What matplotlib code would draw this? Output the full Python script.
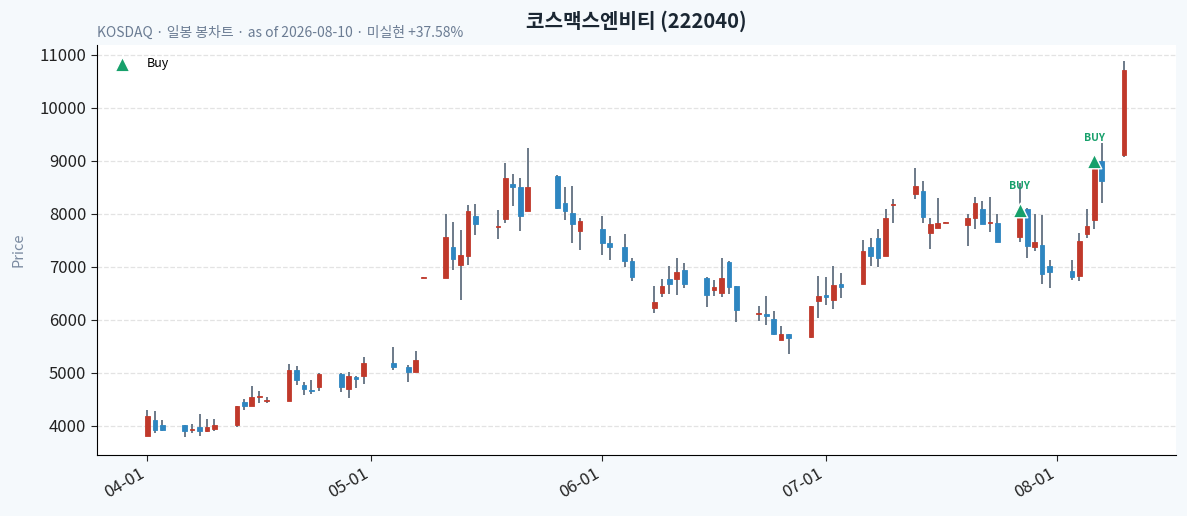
import numpy as np
import pandas as pd
import matplotlib
matplotlib.use("Agg")
import matplotlib.pyplot as plt
import matplotlib.dates as mdates

plt.rcParams['font.family'] = ['Noto Sans CJK KR', 'DejaVu Sans']

dates = ["2026-04-01", "2026-04-02", "2026-04-03", "2026-04-06", "2026-04-07", "2026-04-08",
         "2026-04-09", "2026-04-10", "2026-04-13", "2026-04-14", "2026-04-15", "2026-04-16",
         "2026-04-17", "2026-04-20", "2026-04-21", "2026-04-22", "2026-04-23", "2026-04-24",
         "2026-04-27", "2026-04-28", "2026-04-29", "2026-04-30", "2026-05-04", "2026-05-06",
         "2026-05-07", "2026-05-08", "2026-05-11", "2026-05-12", "2026-05-13", "2026-05-14",
         "2026-05-15", "2026-05-18", "2026-05-19", "2026-05-20", "2026-05-21", "2026-05-22",
         "2026-05-26", "2026-05-27", "2026-05-28", "2026-05-29", "2026-06-01", "2026-06-02",
         "2026-06-04", "2026-06-05", "2026-06-08", "2026-06-09", "2026-06-10", "2026-06-11",
         "2026-06-12", "2026-06-15", "2026-06-16", "2026-06-17", "2026-06-18", "2026-06-19",
         "2026-06-22", "2026-06-23", "2026-06-24", "2026-06-25", "2026-06-26", "2026-06-29",
         "2026-06-30", "2026-07-01", "2026-07-02", "2026-07-03", "2026-07-06", "2026-07-07",
         "2026-07-08", "2026-07-09", "2026-07-10", "2026-07-13", "2026-07-14", "2026-07-15",
         "2026-07-16", "2026-07-17", "2026-07-20", "2026-07-21", "2026-07-22", "2026-07-23",
         "2026-07-24", "2026-07-27", "2026-07-28", "2026-07-29", "2026-07-30", "2026-07-31",
         "2026-08-03", "2026-08-04", "2026-08-05", "2026-08-06", "2026-08-07", "2026-08-10"]

opens = [3817, 4114, 4019, 4006, 3920, 3981, 3911, 3949, 4006, 4454, 4366, 4536,
         4460, 4460, 5059, 4770, 4670, 4732, 4978, 4700, 4921, 4940, 5186, 5110,
         5009, 6790, 6794, 7381, 7040, 7203, 7968, 7755, 7911, 8560, 8516, 8062,
         8717, 8213, 8024, 7676, 7708, 7457, 7381, 7116, 6227, 6511, 6776, 6776,
         6946, 6794, 6567, 6503, 7097, 6630, 6108, 6119, 6019, 5614, 5741, 5671,
         6352, 6460, 6371, 6668, 6673, 7368, 7551, 7203, 8160, 8384, 8441, 7646,
         7733, 7836, 7790, 7923, 8100, 7822, 7835, 7570, 8087, 7381, 7406, 7014,
         6914, 6825, 7627, 7884, 9000, 9108]
highs = [4303, 4278, 4114, 4010, 4032, 4221, 4127, 4127, 4378, 4505, 4744, 4656,
         4543, 5167, 5122, 4827, 4870, 5000, 5000, 5016, 4940, 5300, 5481, 5155,
         5413, 6800, 8005, 7854, 7689, 8176, 8195, 8081, 8970, 8762, 8686, 9235,
         8730, 8509, 8528, 7923, 7960, 7582, 7619, 7173, 6636, 6776, 7014, 7173,
         7078, 6800, 6749, 7173, 7110, 6640, 6265, 6454, 6163, 5879, 5741, 6265,
         6825, 6813, 7022, 6889, 7500, 7538, 7708, 8100, 8282, 8868, 8622, 7930,
         8308, 7846, 8005, 8327, 8244, 8327, 7992, 8592, 8119, 8005, 7979, 7128,
         7128, 7646, 8087, 8900, 9330, 10881]
lows = [3810, 3862, 3911, 3786, 3873, 3805, 3892, 3911, 3975, 4303, 4366, 4435,
        4435, 4460, 4770, 4587, 4600, 4656, 4637, 4523, 4713, 4789, 5059, 4827,
        5009, 6785, 6794, 6933, 6384, 7040, 7608, 7519, 7835, 8149, 7670, 8062,
        8100, 7879, 7457, 7311, 7216, 7122, 7003, 6738, 6132, 6422, 6492, 6460,
        6605, 6246, 6454, 6435, 6492, 5962, 5981, 5911, 5720, 5614, 5362, 5660,
        6038, 6284, 6208, 6416, 6673, 7022, 7003, 7203, 7822, 8276, 7835, 7330,
        7730, 7832, 7392, 7708, 7816, 7652, 7468, 7468, 7173, 7292, 6681, 6592,
        6743, 6730, 7551, 7708, 8213, 9065]
closes = [4189, 3930, 3930, 3911, 3930, 3911, 3981, 4019, 4378, 4366, 4543, 4568,
          4467, 5059, 4858, 4688, 4660, 4978, 4732, 4940, 4883, 5186, 5104, 5016,
          5243, 6798, 7570, 7154, 7216, 8049, 7816, 7765, 8686, 8516, 7968, 8516,
          8119, 8062, 7816, 7873, 7449, 7381, 7116, 6813, 6340, 6630, 6681, 6908,
          6681, 6473, 6611, 6794, 6617, 6181, 6118, 6068, 5727, 5741, 5659, 6265,
          6454, 6428, 6662, 6617, 7292, 7203, 7173, 7930, 8180, 8535, 7941, 7816,
          7835, 7844, 7930, 8213, 7816, 7832, 7468, 7916, 7392, 7468, 6870, 6900,
          6806, 7495, 7771, 8844, 8622, 10717]

buy_dates = ["2026-07-27", "2026-08-06"]
buy_prices = [8080, 8990]

UP = "#c0392b"
DOWN = "#2e86c1"
WICK = "#6c7a89"
BUY = "#17a06b"

df = pd.DataFrame({"open": opens, "high": highs, "low": lows, "close": closes},
                  index=pd.to_datetime(dates))
x = mdates.date2num(df.index.to_pydatetime())
up = df["close"].values >= df["open"].values
colors = np.where(up, UP, DOWN)
bottom = np.minimum(df["open"].values, df["close"].values)
height = np.maximum(np.abs(df["close"].values - df["open"].values), 18)

fig = plt.figure(figsize=(11.87, 5.16), dpi=100, facecolor="#f5f9fc")
ax = fig.add_axes([0.0815, 0.118, 0.909, 0.795])
ax.set_facecolor("white")

ax.vlines(x, df["low"].values, df["high"].values, color=WICK, linewidth=1.4, zorder=2)
ax.bar(x, height, bottom=bottom, width=0.62, color=colors, edgecolor=colors,
       linewidth=0.6, zorder=3)

bx = mdates.date2num(pd.to_datetime(buy_dates).to_pydatetime())
ax.scatter(bx, buy_prices, marker="^", s=110, color=BUY, edgecolor="white",
           linewidth=1.0, zorder=5, label="Buy")
for xi, yi in zip(bx, buy_prices):
    ax.annotate("BUY", (xi, yi), xytext=(0, 17), textcoords="offset points",
                ha="center", va="center", fontsize=7.5, color=BUY, fontweight="bold")

ax.set_xlim(mdates.date2num(pd.Timestamp("2026-03-25 05:00")),
            mdates.date2num(pd.Timestamp("2026-08-16 22:00")))
ax.set_ylim(3447, 11190)
ax.xaxis.set_major_locator(mdates.MonthLocator())
ax.xaxis.set_major_formatter(mdates.DateFormatter("%m-%d"))
plt.setp(ax.get_xticklabels(), rotation=30, ha="right")
ax.tick_params(axis="both", labelsize=12, colors="#222222", length=4)
ax.grid(axis="y", linestyle="--", color="#e3e3e3", linewidth=0.9)
ax.set_axisbelow(True)
for s in ["top", "right"]:
    ax.spines[s].set_visible(False)
ax.set_ylabel("Price", fontsize=10.5, color="#7a8aa0", labelpad=10)

ax.legend(loc="upper left", frameon=False, fontsize=9, handletextpad=1.0,
          borderaxespad=0.6)

fig.text(0.536, 0.958, "코스맥스엔비티 (222040)", ha="center", va="center",
         fontsize=14.5, fontweight="bold", color="#1b2733")
fig.text(0.0815, 0.937, "KOSDAQ · 일봉 봉차트 · as of 2026-08-10 · 미실현 +37.58%",
         ha="left", va="center", fontsize=10, color="#6b7c93")

fig.savefig("out.png", dpi=100, facecolor=fig.get_facecolor())
